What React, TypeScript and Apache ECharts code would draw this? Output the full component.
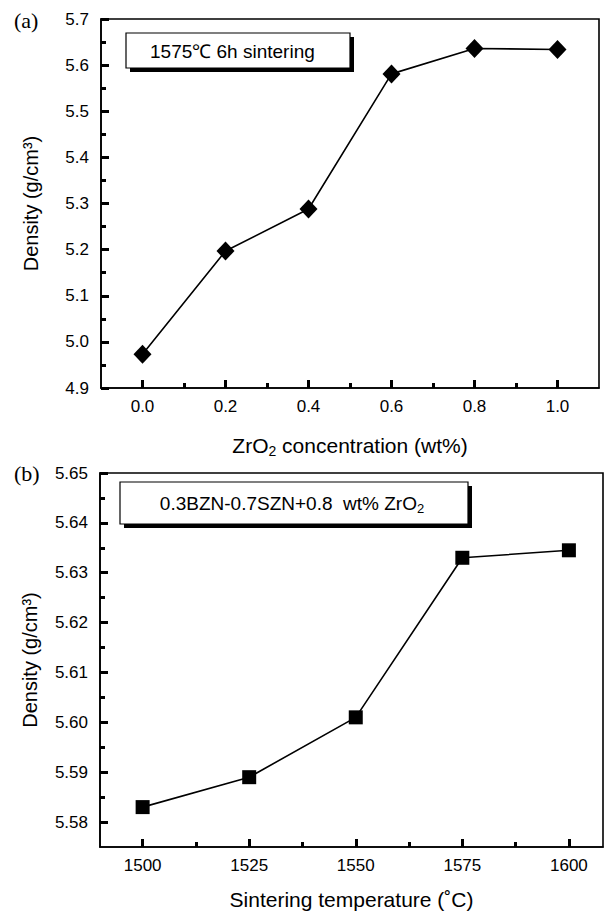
import React, { useEffect, useRef } from 'react';
import * as echarts from 'echarts';

// Panel (a): density vs ZrO2 concentration (1575 °C, 6 h)
const zrConc = [0.0, 0.2, 0.4, 0.6, 0.8, 1.0];
const densityA = [4.973, 5.197, 5.288, 5.581, 5.636, 5.634];
const xTicksA = [0.0, 0.2, 0.4, 0.6, 0.8, 1.0];
const xMinorA = [0.1, 0.3, 0.5, 0.7, 0.9];

// Panel (b): density vs sintering temperature (0.8 wt% ZrO2)
const sinterTemp = [1500, 1525, 1550, 1575, 1600];
const densityB = [5.583, 5.589, 5.601, 5.633, 5.6345];
const xTicksB = [1500, 1525, 1550, 1575, 1600];
const xMinorB = [1512.5, 1537.5, 1562.5, 1587.5];
const yTicksB = [5.58, 5.59, 5.6, 5.61, 5.62, 5.63, 5.64, 5.65];
const yMinorB = [5.585, 5.595, 5.605, 5.615, 5.625, 5.635, 5.645];

const FONT = '"Liberation Sans", Arial, Helvetica, sans-serif';
const SERIF = '"Liberation Serif", "Times New Roman", serif';
const BLACK = '#000';

export default function App() {
  const ref = useRef<HTMLDivElement>(null);

  useEffect(() => {
    if (!ref.current) return;
    const chart = echarts.init(ref.current, undefined, { renderer: 'svg' });

    const mkLine = () => ({ show: true, onZero: false, lineStyle: { color: BLACK, width: 1.6 } });
    const mkTick = (len: number, values?: number[]) => {
      const t: any = { show: true, inside: true, length: len, lineStyle: { color: BLACK, width: 3 } };
      if (values) t.customValues = values;
      return t;
    };
    const labelStyle = { color: BLACK, fontSize: 17, fontFamily: FONT };
    const nameStyleX = {
      color: BLACK,
      fontSize: 21,
      fontFamily: FONT,
      rich: {
        a: { fontSize: 21, fontFamily: FONT, color: BLACK },
        s: { fontSize: 14, fontFamily: FONT, color: BLACK, padding: [12, 0, 0, 0] },
      },
    };
    const nameStyleY = { color: BLACK, fontSize: 20, fontFamily: FONT };

    const option: any = {
      animation: false,
      grid: [
        { left: 101, top: 19, right: 13, height: 369, show: true, borderColor: BLACK, borderWidth: 1.6 },
        { left: 100, top: 473, right: 9, height: 374, show: true, borderColor: BLACK, borderWidth: 1.6 },
      ],
      xAxis: [
        {
          gridIndex: 0, type: 'value', min: -0.1, max: 1.1, position: 'bottom',
          axisLine: mkLine(),
          axisTick: mkTick(8, xTicksA),
          axisLabel: { ...labelStyle, margin: 10, customValues: xTicksA, formatter: (v: number) => v.toFixed(1) },
          splitLine: { show: false },
          name: '{a|ZrO}{s|2}{a| concentration (wt%)}',
          nameLocation: 'middle', nameGap: 44,
          nameTextStyle: nameStyleX,
        },
        {
          gridIndex: 0, type: 'value', min: -0.1, max: 1.1, position: 'bottom',
          axisLine: { show: false, onZero: false },
          axisTick: mkTick(5, xMinorA),
          axisLabel: { show: false, customValues: xMinorA },
          splitLine: { show: false },
        },
        {
          gridIndex: 1, type: 'value', min: 1490, max: 1608, position: 'bottom',
          axisLine: mkLine(),
          axisTick: mkTick(8, xTicksB),
          axisLabel: { ...labelStyle, margin: 10, customValues: xTicksB, formatter: (v: number) => String(Math.round(v)) },
          splitLine: { show: false },
          name: 'Sintering temperature (\u02DAC)',
          nameLocation: 'middle', nameGap: 42,
          nameTextStyle: nameStyleX,
        },
        {
          gridIndex: 1, type: 'value', min: 1490, max: 1608, position: 'bottom',
          axisLine: { show: false, onZero: false },
          axisTick: mkTick(5, xMinorB),
          axisLabel: { show: false, customValues: xMinorB },
          splitLine: { show: false },
        },
      ],
      yAxis: [
        {
          gridIndex: 0, type: 'value', min: 4.9, max: 5.7, interval: 0.1, position: 'left',
          axisLine: mkLine(),
          axisTick: mkTick(8),
          minorTick: { show: true, splitNumber: 2, length: 5, lineStyle: { color: BLACK, width: 3 } },
          axisLabel: { ...labelStyle, margin: 12, formatter: (v: number) => v.toFixed(1) },
          splitLine: { show: false },
          minorSplitLine: { show: false },
          name: 'Density (g/cm\u00B3)',
          nameLocation: 'middle', nameGap: 60,
          nameTextStyle: nameStyleY,
        },
        {
          gridIndex: 1, type: 'value', min: 5.575, max: 5.65, position: 'left',
          axisLine: mkLine(),
          axisTick: mkTick(8, yTicksB),
          axisLabel: { ...labelStyle, margin: 12, customValues: yTicksB, formatter: (v: number) => v.toFixed(2) },
          splitLine: { show: false },
          name: 'Density (g/cm\u00B3)',
          nameLocation: 'middle', nameGap: 60,
          nameTextStyle: nameStyleY,
        },
        {
          gridIndex: 1, type: 'value', min: 5.575, max: 5.65, position: 'left',
          axisLine: { show: false, onZero: false },
          axisTick: mkTick(5, yMinorB),
          axisLabel: { show: false, customValues: yMinorB },
          splitLine: { show: false },
        },
      ],
      series: [
        {
          type: 'line', xAxisIndex: 0, yAxisIndex: 0,
          data: zrConc.map((x, i) => [x, densityA[i]]),
          symbol: 'diamond', symbolSize: [18, 19],
          itemStyle: { color: BLACK },
          lineStyle: { color: BLACK, width: 1.6 },
        },
        {
          type: 'line', xAxisIndex: 2, yAxisIndex: 1,
          data: sinterTemp.map((x, i) => [x, densityB[i]]),
          symbol: 'rect', symbolSize: 14,
          itemStyle: { color: BLACK },
          lineStyle: { color: BLACK, width: 1.6 },
        },
      ],
      graphic: [
        { type: 'text', left: 14, top: 9, style: { text: '(a)', font: `22px ${SERIF}`, fill: BLACK } },
        { type: 'text', left: 14, top: 462, style: { text: '(b)', font: `22px ${SERIF}`, fill: BLACK } },
        // annotation (a)
        { type: 'rect', shape: { x: 130, y: 37, width: 224, height: 35 }, style: { fill: BLACK }, z: 10 },
        { type: 'rect', shape: { x: 126, y: 33, width: 224, height: 35 }, style: { fill: '#fff', stroke: BLACK, lineWidth: 1.2 }, z: 11 },
        { type: 'text', x: 150, y: 51, style: { text: '1575\u2103 6h sintering', font: `19px ${FONT}`, fill: BLACK, verticalAlign: 'middle', align: 'left' }, z: 12 },
        // annotation (b)
        { type: 'rect', shape: { x: 124, y: 486, width: 348, height: 42 }, style: { fill: BLACK }, z: 10 },
        { type: 'rect', shape: { x: 120, y: 482, width: 348, height: 42 }, style: { fill: '#fff', stroke: BLACK, lineWidth: 1.2 }, z: 11 },
        {
          type: 'text', x: 292, y: 503,
          style: {
            text: '{a|0.3BZN-0.7SZN+0.8  wt% ZrO}{s|2}',
            fill: BLACK, align: 'center', verticalAlign: 'middle',
            rich: {
              a: { fontSize: 19, fontFamily: FONT, fill: BLACK },
              s: { fontSize: 13, fontFamily: FONT, fill: BLACK, padding: [10, 0, 0, 0] },
            },
          },
          z: 12,
        },
      ],
    };

    chart.setOption(option);
    return () => chart.dispose();
  }, []);

  return (
    <div
      ref={ref}
      style={{ position: 'absolute', left: 0, top: 0, width: 612, height: 913, background: '#fff' }}
    />
  );
}
